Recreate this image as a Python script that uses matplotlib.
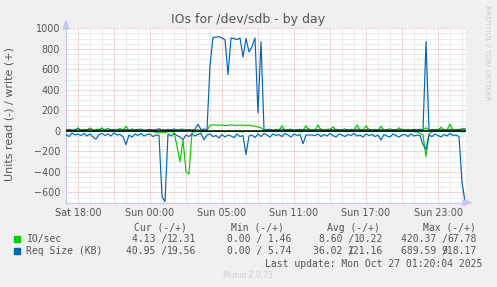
import numpy as np
import matplotlib
matplotlib.use('Agg')
import matplotlib.pyplot as plt
from matplotlib.patches import Rectangle, Polygon

# samples every 15 minutes, time in hours counted from Sat 18:00
t_start = -1.0
t_step = 0.25

# IO/sec read (drawn below zero) and write
io_read = [
    3, 5, 2, 6, 4, 3, 7, 2, 5, 4,
    6, 3, 4, 8, 2, 5, 3, 6, 4, 7,
    3, 5, 4, 2, 6, 3, 5, 4, 7, 3,
    15, 20, 12, 18, 6, 5, 10, 150, 300, 90,
    400, 420, 15, 8, 5, 10, 6, 4, 7, 5,
    3, 6, 4, 8, 5, 3, 6, 4, 7, 10,
    4, 6, 3, 5, 8, 4, 6, 3, 5, 4,
    6, 3, 7, 5, 4, 6, 3, 5, 8, 6,
    4, 5, 3, 7, 4, 6, 5, 3, 6, 4,
    7, 5, 3, 6, 4, 5, 7, 3, 6, 5,
    4, 6, 3, 7, 5, 4, 6, 5, 3, 6,
    4, 7, 5, 3, 6, 4, 8, 10, 25, 40,
    250, 30, 8, 5, 6, 4, 7, 3, 5, 6,
    4, 6, 10, 4]
io_write = [
    5, 4, 8, 6, 30, 5, 7, 4, 30, 6,
    5, 8, 30, 4, 6, 5, 7, 12, 20, 6,
    45, 5, 7, 4, 6, 8, 5, 4, 7, 6,
    5, 15, 8, 6, 4, 7, 5, 6, 8, 5,
    4, 6, 5, 7, 10, 6, 8, 5, 55, 60,
    58, 55, 57, 52, 55, 58, 56, 54, 57, 55,
    53, 56, 50, 45, 38, 30, 6, 5, 8, 4,
    6, 7, 50, 5, 8, 6, 4, 7, 5, 6,
    50, 5, 7, 4, 58, 6, 8, 5, 7, 40,
    6, 5, 8, 4, 7, 6, 5, 58, 6, 8,
    50, 5, 7, 4, 6, 45, 8, 5, 6, 7,
    5, 30, 6, 4, 8, 5, 7, 6, 5, 8,
    30, 6, 5, 7, 4, 35, 6, 8, 66, 5,
    7, 6, 20, 12]

# Req Size (KB) read (drawn below zero) and write
req_read = [
    35, 55, 20, 40, 30, 45, 25, 50, 30, 60,
    80, 35, 25, 45, 30, 50, 20, 40, 35, 55,
    135, 40, 60, 30, 45, 25, 50, 35, 30, 55,
    40, 45, 640, 690, 30, 50, 25, 45, 60, 85,
    40, 55, 30, 50, 35, 25, 85, 40, 30, 55,
    45, 70, 35, 60, 40, 50, 65, 30, 55, 45,
    230, 50, 40, 65, 30, 55, 25, 40, 60, 30,
    45, 35, 55, 25, 40, 60, 30, 45, 35, 125,
    40, 40, 40, 45, 30, 55, 35, 50, 25, 45,
    60, 30, 40, 55, 35, 45, 25, 50, 40, 60,
    30, 45, 35, 55, 40, 90, 35, 50, 60, 30,
    45, 60, 40, 35, 55, 30, 50, 40, 45, 135,
    180, 40, 55, 30, 45, 60, 35, 50, 25, 45,
    40, 55, 500, 690]
req_write = [
    10, 15, 8, 12, 20, 9, 14, 11, 18, 7,
    12, 16, 9, 13, 22, 10, 15, 8, 17, 12,
    14, 9, 18, 11, 13, 16, 8, 12, 15, 10,
    13, 20, 11, 9, 15, 12, 18, 10, 14, 16,
    11, 13, 9, 15, 65, 12, 18, 10, 640, 910,
    915, 918, 905, 890, 550, 905, 900, 890, 905, 720,
    900, 770, 820, 905, 175, 870, 10, 12, 15, 9,
    14, 11, 17, 10, 13, 16, 9, 12, 15, 11,
    13, 18, 10, 14, 12, 16, 9, 13, 17, 11,
    15, 10, 12, 18, 9, 14, 11, 16, 13, 10,
    12, 17, 9, 14, 11, 15, 10, 13, 18, 12,
    14, 9, 16, 11, 13, 10, 15, 12, 17, 5,
    870, 8, 14, 11, 16, 10, 13, 9, 15, 12,
    11, 14, 18, 20]

tick_hours = [0, 6, 12, 18, 24, 30]
tick_labels = ['Sat 18:00', 'Sun 00:00', 'Sun 05:00', 'Sun 11:00', 'Sun 17:00', 'Sun 23:00']

series_names = ['IO/sec', 'Req Size (KB)']
series_colors = ['#00cc00', '#0066b3']
cur_vals = [('4.13 /', '12.31'), ('40.95 /', '19.56')]
min_vals = [('0.00 /', ' 1.46'), ('0.00 /', ' 5.74')]
avg_vals = [('8.60 /', '10.22'), ('36.02 /', '121.16')]
max_vals = [('420.37 /', '67.78'), ('689.59 /', '918.17')]
last_update = 'Last update: Mon Oct 27 01:20:04 2025'

W, H = 497, 287
fig = plt.figure(figsize=(W / 100, H / 100), dpi=100, facecolor='#f0f0f0')


def fx(x):
    return x / W


def fy(y):
    return 1 - y / H


ax = fig.add_axes([fx(66), fy(202.7), fx(466) - fx(66), fy(28.3) - fy(202.7)])
ax.set_facecolor('white')
ax.set_xlim(-1.0, 32.333)
ax.set_ylim(-700, 1000)

# grid, munin style: grey minor, red major, both dotted
dot = (0, (1, 1))
for h in range(0, 33):
    col = '#eab0b0' if h % 3 == 0 else '#dadada'
    ax.axvline(h, color=col, lw=0.72, ls=dot, zorder=1)
for v in range(-650, 1001, 50):
    col = '#eab0b0' if v % 200 == 0 else '#dadada'
    ax.axhline(v, color=col, lw=0.72, ls=dot, zorder=1)

t = t_start + t_step * np.arange(len(io_read))
ax.plot(t, -np.array(io_read), color=series_colors[0], lw=0.85, zorder=3)
ax.plot(t, io_write, color=series_colors[0], lw=0.85, zorder=3)
ax.plot(t, -np.array(req_read), color=series_colors[1], lw=0.85, zorder=4)
ax.plot(t, req_write, color=series_colors[1], lw=0.85, zorder=4)
ax.axhline(0, color='black', lw=1.1, zorder=5)

axis_col = '#c8c8f0'
for s in ['top', 'right']:
    ax.spines[s].set_visible(False)
for s in ['left', 'bottom']:
    ax.spines[s].set_color(axis_col)
    ax.spines[s].set_linewidth(0.9)
# arrow heads on the axes
fig.add_artist(Polygon([(fx(463), fy(199.7)), (fx(471.5), fy(202.7)), (fx(463), fy(205.7))],
                       closed=True, transform=fig.transFigure, color=axis_col))
fig.add_artist(Polygon([(fx(63), fy(29)), (fx(66), fy(20.5)), (fx(69), fy(29))],
                       closed=True, transform=fig.transFigure, color=axis_col))

txt = '#555555'
ax.set_xticks(tick_hours)
ax.set_xticklabels(tick_labels)
ax.set_yticks(range(-600, 1001, 200))
ax.tick_params(axis='both', length=0, colors=txt, labelsize=6.9)
ax.tick_params(axis='y', pad=4.3)
ax.tick_params(axis='x', pad=4.0)
fig.text(fx(10), fy(114), 'Units read (-) / write (+)', rotation=90,
         ha='center', va='center', fontsize=8, color=txt)

fig.text(fx(248.5), fy(19), 'IOs for /dev/sdb - by day', ha='center', va='center',
         fontsize=9, color=txt)
fig.text(fx(487.5), fy(53), 'RRDTOOL / TOBI OETIKER', rotation=270, ha='center',
         va='center', fontsize=5.4, color='#cccccc')

# legend block, fixed width columns like rrdtool
mono = 'DejaVu Sans Mono'
fs = 7
cw = 5.85
fig.text(fx(134.3), fy(227.7), 'Cur (-/+)', family=mono, fontsize=fs, color=txt, va='center')
fig.text(fx(231), fy(227.7), 'Min (-/+)', family=mono, fontsize=fs, color=txt, va='center')
fig.text(fx(327.3), fy(227.7), 'Avg (-/+)', family=mono, fontsize=fs, color=txt, va='center')
fig.text(fx(422.7), fy(227.7), 'Max (-/+)', family=mono, fontsize=fs, color=txt, va='center')


def value_pair(pair, right, y, width):
    # second half right-aligned; first half overlaps it if the column is too narrow
    a1, a2 = pair
    left = right - cw * min(len(a1) + len(a2), width)
    fig.text(fx(left), fy(y), a1, family=mono, fontsize=fs, color=txt, va='center')
    fig.text(fx(right), fy(y), a2, family=mono, fontsize=fs, color=txt, va='center', ha='right')


row_y = [239.3, 251.0]
for k in range(2):
    y = row_y[k]
    fig.add_artist(Rectangle((fx(14), fy(y + 3)), fx(6), fy(0) - fy(6),
                             transform=fig.transFigure, color=series_colors[k]))
    fig.text(fx(26.5), fy(y), series_names[k], family=mono, fontsize=fs, color=txt, va='center')
    value_pair(cur_vals[k], 196.7, y, 12)
    value_pair(min_vals[k], 291, y, 12)
    value_pair(avg_vals[k], 383.3, y, 12)
    value_pair(max_vals[k], 476.7, y, 13)

fig.text(fx(482.3), fy(264), last_update, family=mono, fontsize=fs, color=txt,
         va='center', ha='right')
fig.text(fx(248), fy(276), 'Munin 2.0.73', ha='center', va='center', fontsize=5.5,
         color='#cfcfcf')

fig.savefig('out.png', dpi=100, facecolor=fig.get_facecolor())
